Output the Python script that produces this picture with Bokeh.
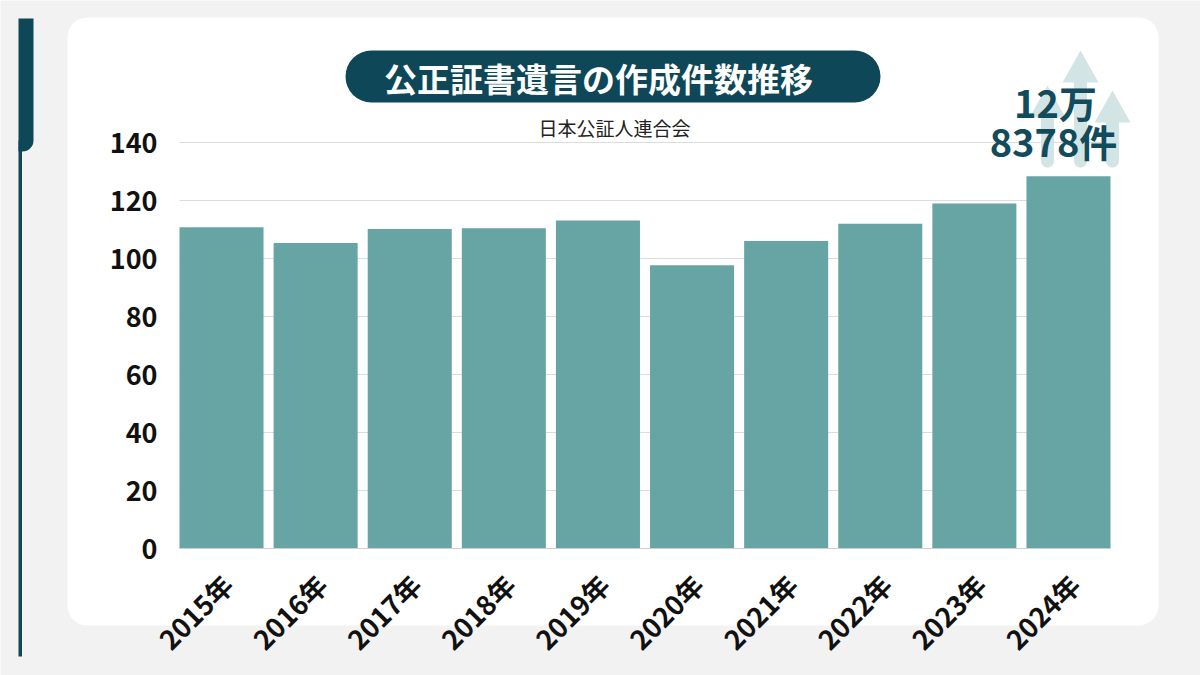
import numpy as np
from bokeh.plotting import figure
from bokeh.models import Range1d, BoxAnnotation, Label
from bokeh.core.properties import value
from bokeh.embed import file_html
from bokeh.resources import INLINE

# ---------------- data ----------------
years = ["2015年", "2016年", "2017年", "2018年", "2019年",
         "2020年", "2021年", "2022年", "2023年", "2024年"]
counts = [110.778, 105.350, 110.191, 110.471, 113.137,
          97.700, 106.028, 111.977, 118.981, 128.378]   # 千件
y_ticks = [0, 20, 40, 60, 80, 100, 120, 140]
y_tick_labels = ["0", "20", "40", "60", "80", "100", "120", "140"]
title_text = "公正証書遺言の作成件数推移"
source_text = "日本公証人連合会"
callout_lines = ["12万", "8378件"]

# ---------------- layout (page pixel coords) ----------------
W, H = 1200, 675
FL, FR, FB = 179, 1110, 548          # plot-area left / right / baseline
PX_PER = 2.9                          # pixels per 1 (千件)
BAR_W = 0.893
FONT = "Noto Sans CJK JP"
DARK = "#0e4757"
BAR = "#66a5a4"
GREY = "#f2f2f2"
TICK_FS = "27px"

n = len(years)
ux = (FR - FL) / (n - 1 + BAR_W)
x_range = Range1d(-BAR_W / 2 - FL / ux, n - 1 + BAR_W / 2 + (W - FR) / ux)
y_range = Range1d(-(H - FB) / PX_PER, FB / PX_PER)

p = figure(width=W, height=H, x_range=x_range, y_range=y_range,
           output_backend="svg", toolbar_location=None,
           x_axis_location=None, y_axis_location=None, min_border=0)
p.extra_x_ranges = {"px": Range1d(0, W)}
p.extra_y_ranges = {"px": Range1d(H, 0)}
p.border_fill_color = GREY
p.background_fill_color = GREY
p.outline_line_color = None
p.grid.visible = False


def ann(obj):
    p.add_layout(obj)
    return obj


# ---------------- card & accent ----------------
ann(BoxAnnotation(left=67, right=1158, top=17, bottom=625, fill_color="white", fill_alpha=1,
                  line_color=None, border_radius=20, level="image",
                  x_range_name="px", y_range_name="px"))
ann(BoxAnnotation(left=18, right=33, top=18, bottom=151, fill_color=DARK, fill_alpha=1,
                  line_color=None, border_radius=(0, 0, 11, 0), level="image",
                  x_range_name="px", y_range_name="px"))
ann(BoxAnnotation(left=18, right=21.5, top=140, bottom=656, fill_color=DARK, fill_alpha=1,
                  line_color=None, level="image", x_range_name="px", y_range_name="px"))

# ---------------- grid, bars ----------------
x_lo, x_hi = -BAR_W / 2, n - 1 + BAR_W / 2
p.segment(x0=[x_lo] * len(y_ticks), x1=[x_hi] * len(y_ticks), y0=y_ticks, y1=y_ticks,
          line_color="#dcdcdc", line_width=1)


# ---------------- arrows behind call-out (decoration) ----------------
def arrow(cx, apex, base, hh, hs, bottom):
    th = np.linspace(0, np.pi, 12)
    xs = [cx, cx + hh, cx + hs, cx + hs]
    ys = [apex, base, base, bottom - hs]
    xs += list(cx + hs * np.cos(th))
    ys += list(bottom - hs + hs * np.sin(th))
    xs += [cx - hs, cx - hs, cx - hh]
    ys += [bottom - hs, base, base]
    return [float(v) for v in xs], [float(v) for v in ys]


axs, ays = [], []
for cx, apex, base in [(1047, 85, 117), (1080, 50, 82), (1112, 90, 122)]:
    xs, ys = arrow(cx, apex, base, 18, 6.5, 167)
    axs.append(xs)
    ays.append(ys)
p.patches(xs=axs, ys=ays, x_range_name="px", y_range_name="px",
          fill_color="#d3e4e5", fill_alpha=1, line_color=None)

p.vbar(x=list(range(n)), top=counts, width=BAR_W, bottom=0,
       fill_color=BAR, line_color=None)
p.segment(x0=[x_lo], x1=[x_hi], y0=[0], y1=[0], line_color="#cfcfcf", line_width=1)

# ---------------- tick labels ----------------
p.text(x=[157] * len(y_ticks), y=y_ticks, text=y_tick_labels, x_range_name="px",
       text_font=value(FONT), text_font_style="bold", text_font_size=TICK_FS,
       text_color="#111111", text_align="right", text_baseline="middle")
p.text(x=list(range(n)), y=[579] * n, text=years, y_range_name="px",
       angle=np.pi / 4, x_offset=6,
       text_font=value(FONT), text_font_style="bold", text_font_size=TICK_FS,
       text_color="#111111", text_align="right", text_baseline="middle")

# ---------------- title pill ----------------
ann(BoxAnnotation(left=345, right=880, top=50, bottom=102, fill_color=DARK, fill_alpha=1,
                  line_color=None, border_radius=26, x_range_name="px", y_range_name="px"))
ann(Label(x=598, y=77, text=title_text, text_font=FONT, text_font_style="bold",
          text_font_size="33px", text_color="white", text_align="center",
          text_baseline="middle", x_range_name="px", y_range_name="px"))
ann(Label(x=614, y=127, text=source_text, text_font=FONT, text_font_size="19px",
          text_color="#222222", text_align="center", text_baseline="middle",
          x_range_name="px", y_range_name="px"))

# ---------------- call-out ----------------
ann(Label(x=1055, y=101, text=callout_lines[0], text_font=FONT, text_font_style="bold",
          text_font_size="38px", text_color="#124b5b", text_align="center",
          text_baseline="middle", x_range_name="px", y_range_name="px"))
ann(Label(x=1053, y=140, text=callout_lines[1], text_font=FONT, text_font_style="bold",
          text_font_size="38px", text_color="#124b5b", text_align="center",
          text_baseline="middle", x_range_name="px", y_range_name="px"))

open("out.html", "w").write(file_html(p, INLINE))
